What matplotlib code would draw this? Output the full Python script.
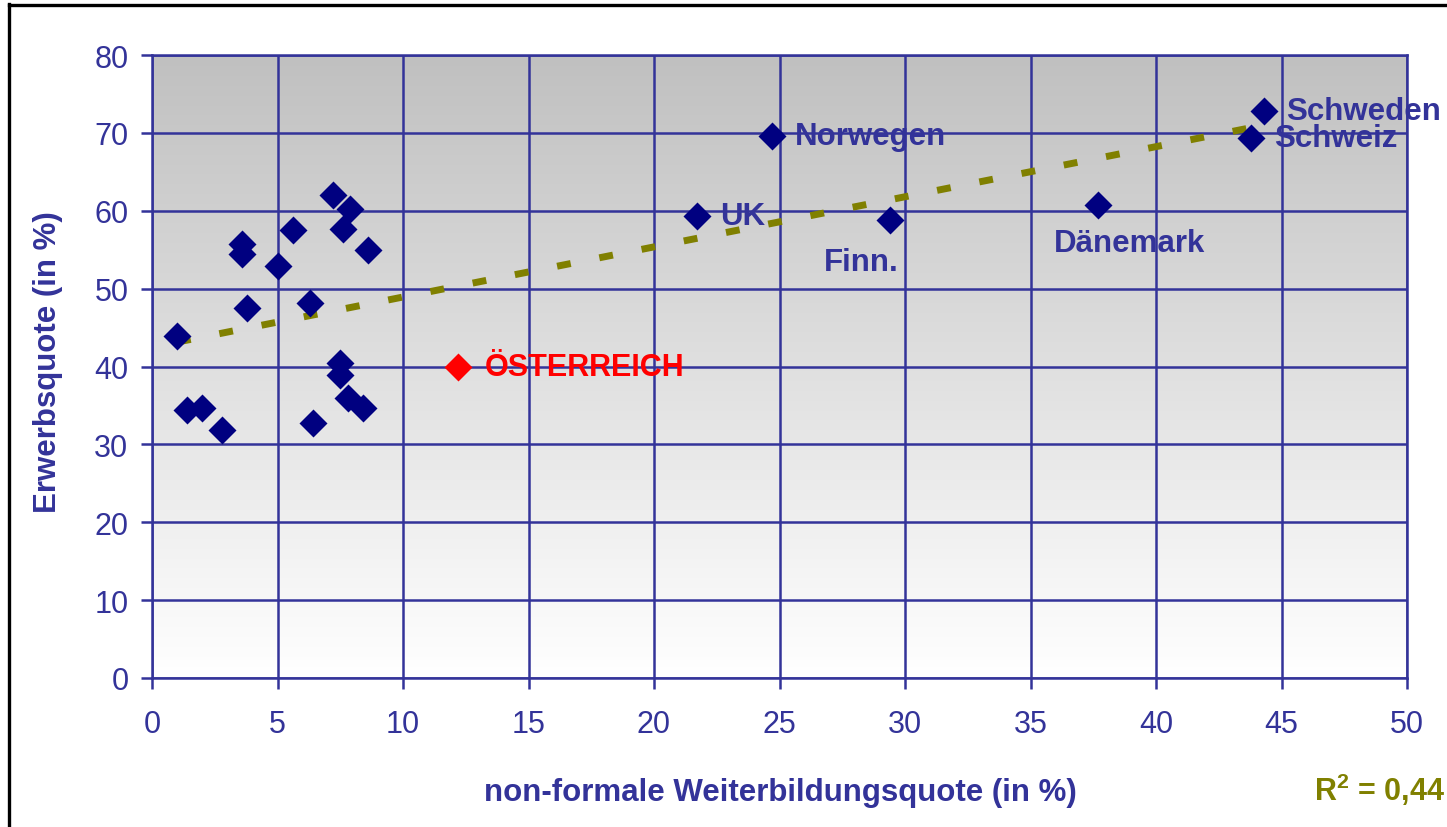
import numpy as np
import matplotlib
matplotlib.use("Agg")
import matplotlib.pyplot as plt
from matplotlib.lines import Line2D

plt.rcParams["font.family"] = ["Liberation Sans", "DejaVu Sans"]
plt.rcParams["mathtext.fontset"] = "custom"
plt.rcParams["mathtext.bf"] = "Liberation Sans:bold"
plt.rcParams["mathtext.rm"] = "Liberation Sans"

# unlabelled countries (non-formal further education rate, employment rate)
weiterbildung = [1.0, 1.4, 2.0, 2.8, 3.6, 3.6, 3.8, 5.0, 5.6, 6.3, 6.4, 7.2,
                 7.9, 7.6, 8.6, 7.5, 7.5, 7.8, 8.4]
erwerb = [43.9, 34.4, 34.7, 31.9, 55.7, 54.4, 47.5, 52.9, 57.5, 48.1, 32.8, 62.0,
          60.2, 57.7, 55.0, 40.5, 38.9, 35.9, 34.7]

# labelled countries
named = ["UK", "Norwegen", "Finn.", "Dänemark", "Schweden", "Schweiz"]
named_x = [21.7, 24.7, 29.4, 37.7, 44.3, 43.8]
named_y = [59.3, 69.6, 58.8, 60.8, 72.8, 69.3]

at_name = "ÖSTERREICH"
at_x = 12.2
at_y = 39.9

r2_text = "0,44"

navy = "#000080"
blue = "#333399"
olive = "#808000"

fig = plt.figure(figsize=(14.47, 8.28), dpi=100)
ax = fig.add_axes([152 / 1447, 1 - 679 / 828, (1407 - 152) / 1447, (679 - 56) / 828])

# grey (top) to white (bottom) gradient background
grad = np.linspace(0, 1, 256).reshape(-1, 1)
cmap = matplotlib.colors.LinearSegmentedColormap.from_list("g", ["#c0c0c0", "#ffffff"])
ax.imshow(grad, cmap=cmap, extent=[0, 50, 0, 80], origin="upper", aspect="auto", zorder=0)

ax.set_xlim(0, 50)
ax.set_ylim(0, 80)
ax.set_xticks(range(0, 51, 5))
ax.set_yticks(range(0, 81, 10))
ax.grid(True, color=blue, lw=1.8, zorder=1)
for s in ax.spines.values():
    s.set_color(blue)
    s.set_linewidth(1.8)
ax.tick_params(axis="y", colors=blue, labelsize=22, length=8, width=1.8, pad=9, direction="out")
ax.tick_params(axis="x", colors=blue, labelsize=22, length=8, width=1.8, pad=14, direction="out")

# linear trend over all countries
all_x = np.array(weiterbildung + named_x + [at_x])
all_y = np.array(erwerb + named_y + [at_y])
k, d = np.polyfit(all_x, all_y, 1)
tx = np.array([all_x.min(), all_x.max()])
trend, = ax.plot(tx, k * tx + d, color=olive, lw=5, zorder=3)
trend.set_dashes([2.0, 4.2])

ax.plot(weiterbildung, erwerb, "D", color=navy, ms=14, mec="none", zorder=4)
ax.plot(named_x, named_y, "D", color=navy, ms=14, mec="none", zorder=4)
ax.plot([at_x], [at_y], "D", color="#ff0000", ms=14, mec="none", zorder=4)

offsets = {"UK": (23, 0), "Norwegen": (23, 0), "Finn.": (-66, -42),
           "Dänemark": (-44, -38), "Schweden": (22, 0), "Schweiz": (23, 0)}
for name, x, y in zip(named, named_x, named_y):
    ax.annotate(name, (x, y), xytext=offsets[name], textcoords="offset pixels",
                ha="left", va="center", fontsize=22.5, fontweight="bold", color=blue,
                zorder=5, annotation_clip=False)
ax.annotate(at_name, (at_x, at_y), xytext=(27, 0), textcoords="offset pixels",
            ha="left", va="center", fontsize=22, fontweight="bold", color="#ff0000", zorder=5)

ax.set_xlabel("non-formale Weiterbildungsquote (in %)", fontsize=22.5, fontweight="bold", color=blue)
ax.set_ylabel("Erwerbsquote (in %)", fontsize=22.5, fontweight="bold", color=blue)
ax.xaxis.set_label_coords((780 - 152) / (1407 - 152), -(793 - 679) / (679 - 56))
ax.yaxis.set_label_coords(-(152 - 48) / (1407 - 152), (679 - 362) / (679 - 56))
ax.xaxis.label.set_va("center")
ax.yaxis.label.set_va("center")

fig.text(1445 / 1447, 1 - 790 / 828, r"R$^\mathbf{2}$ = " + r2_text, ha="right", va="center",
         fontsize=22, fontweight="bold", color=olive)

# outer frame of the slide
fig.add_artist(Line2D([9 / 1447, 9 / 1447], [0, 1 - 5 / 828], color="black", lw=2.4))
fig.add_artist(Line2D([9 / 1447, 1], [1 - 5.5 / 828, 1 - 5.5 / 828], color="black", lw=2.4))

fig.savefig("out.png", dpi=100)
